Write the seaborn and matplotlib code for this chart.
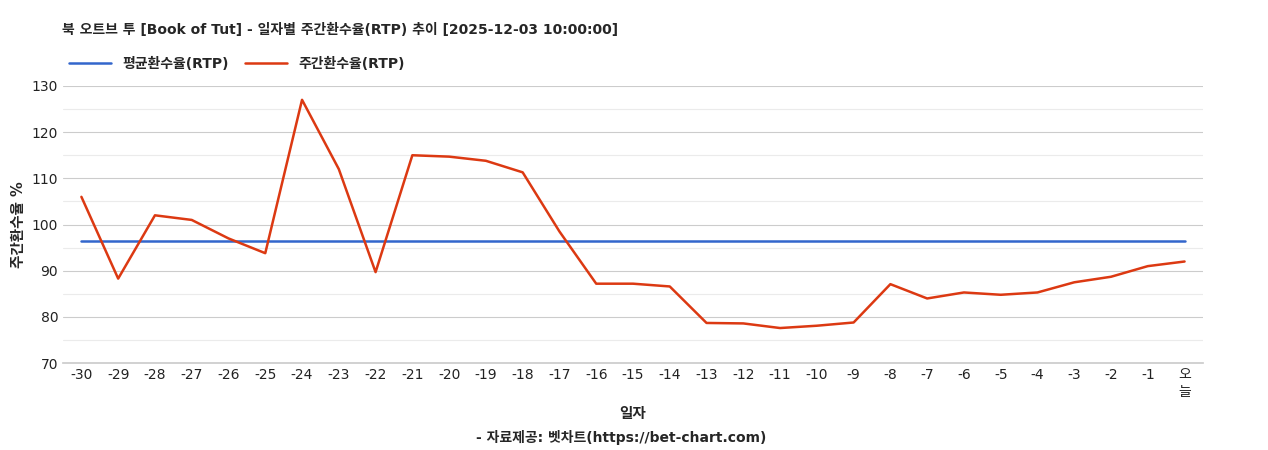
import matplotlib
matplotlib.use("Agg")
import matplotlib.pyplot as plt
import numpy as np
import pandas as pd
import seaborn as sns

days = list(range(-30, 1))
day_labels = [str(d) for d in range(-30, 0)] + ["오\n늘"]
weekly_rtp = [106, 88.3, 102, 101, 97, 93.8, 127, 112, 89.7, 115, 114.7, 113.8,
              111.3, 98.5, 87.2, 87.2, 86.6, 78.7, 78.6, 77.6, 78.1, 78.8, 87.1,
              84, 85.3, 84.8, 85.3, 87.5, 88.7, 91, 92]
avg_rtp = 96.5

df = pd.DataFrame({"day": days, "weekly": weekly_rtp, "avg": [avg_rtp] * len(days)})

sns.set_theme(style="white")
plt.rcParams["font.family"] = ["DejaVu Sans", "Noto Sans CJK KR"]

fig = plt.figure(figsize=(12.68, 4.5), dpi=100)
ax = fig.add_axes([0.0497, 0.193, 0.899, 0.616])

sns.lineplot(data=df, x="day", y="avg", ax=ax, color="#3366cc", lw=1.8, label="평균환수율(RTP)")
sns.lineplot(data=df, x="day", y="weekly", ax=ax, color="#dc3912", lw=1.8, label="주간환수율(RTP)")

ax.set_xlim(-30.5, 0.5)
ax.set_ylim(70, 130)
ax.set_yticks(range(70, 131, 10))
ax.set_yticks(range(75, 130, 10), minor=True)
ax.grid(axis="y", which="major", color="#cccccc", lw=0.8)
ax.grid(axis="y", which="minor", color="#ebebeb", lw=0.8)
ax.set_axisbelow(True)
ax.set_xticks(days)
ax.set_xticklabels(day_labels, linespacing=1.3)
ax.tick_params(axis="both", labelsize=10, length=0, colors="#222222")
for s in ["top", "right", "left"]:
    ax.spines[s].set_visible(False)
ax.spines["bottom"].set_color("#cccccc")

ax.set_xlabel("일자", fontsize=10.5, fontweight="bold")
ax.xaxis.set_label_coords(0.5, -0.155)
ax.set_ylabel("주간환수율 %", fontsize=10.5, fontweight="bold")
fig.text(0.49, 0.018, "- 자료제공: 벳차트(https://bet-chart.com)", ha="center",
         fontsize=10, fontweight="bold")
fig.text(0.049, 0.925, "북 오트브 투 [Book of Tut] - 일자별 주간환수율(RTP) 추이 [2025-12-03 10:00:00]",
         fontsize=10, fontweight="bold")
ax.legend(loc="lower left", bbox_to_anchor=(-0.003, 1.02), ncol=2, frameon=False,
          prop={"size": 10, "weight": "bold"}, handlelength=3, columnspacing=1.2,
          borderaxespad=0.3)

fig.savefig("out.png", dpi=100)
